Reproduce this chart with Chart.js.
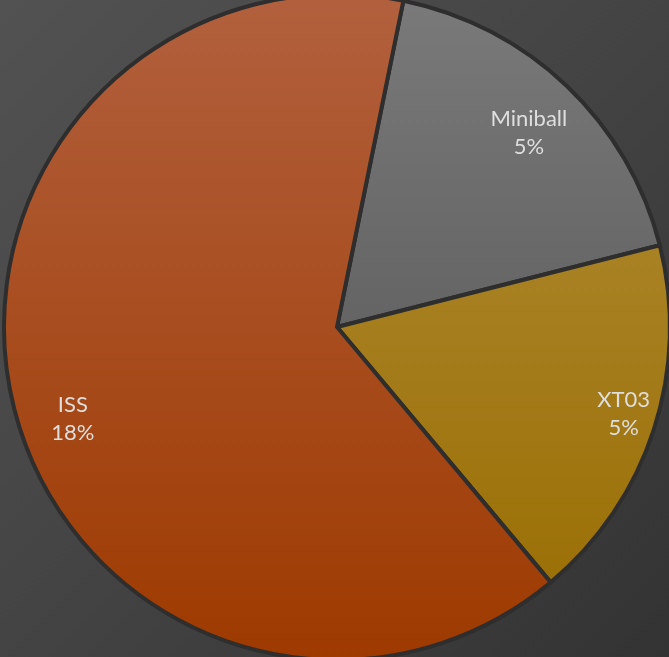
<!DOCTYPE html>
<html>
<head>
<meta charset="utf-8">
<script src="https://cdn.jsdelivr.net/npm/chart.js@4"></script>
<style>
  html, body { margin: 0; padding: 0; }
  body {
    width: 669px; height: 657px; overflow: hidden; position: relative;
    background: linear-gradient(135deg, #525252 0%, #454545 45%, #333333 100%);
  }
  #wrap { position: absolute; left: -3px; top: -8px; width: 680px; height: 670px; }
</style>
</head>
<body>
<div id="wrap"><canvas id="pie"></canvas></div>
<script>
// ================== DATA ==================
const labels = ['Miniball', 'XT03', 'ISS'];
const values = [5, 5, 18];
const valueLabels = ['5%', '5%', '18%'];

// top / bottom colours of each slice's vertical gradient
const topColors = ['#7a7a7a', '#b38f3a', '#b2603e'];
const bottomColors = ['#4e4e4e', '#986c00', '#9e3a00'];
// label placement: fraction of the radius, and a nudge off the mid angle (degrees)
const labelRadius = [0.82, 0.9, 0.84];
const labelShift = [1, -1, -5];

// ================== GRADIENT FILL ==================
function sliceGradient(ctx) {
  const chart = ctx.chart;
  const area = chart.chartArea;
  if (!area) return bottomColors[ctx.dataIndex];
  const g = chart.ctx.createLinearGradient(0, area.top, 0, area.bottom);
  g.addColorStop(0, topColors[ctx.dataIndex]);
  g.addColorStop(1, bottomColors[ctx.dataIndex]);
  return g;
}

// ================== SLICE LABELS ==================
const sliceLabels = {
  id: 'sliceLabels',
  afterDatasetsDraw(chart) {
    const c = chart.ctx;
    const arcs = chart.getDatasetMeta(0).data;
    c.save();
    c.fillStyle = '#dedede';
    c.font = '22px Lato, "Open Sans", sans-serif';
    c.textAlign = 'center';
    c.textBaseline = 'middle';
    arcs.forEach((arc, i) => {
      const p = arc.getProps(['x', 'y', 'startAngle', 'endAngle', 'outerRadius'], true);
      const mid = (p.startAngle + p.endAngle) / 2 + labelShift[i] * Math.PI / 180;
      const r = p.outerRadius * labelRadius[i];
      const x = p.x + Math.cos(mid) * r;
      const y = p.y + Math.sin(mid) * r;
      c.fillText(labels[i], x, y - 14);
      c.fillText(valueLabels[i], x, y + 14);
    });
    c.restore();
  }
};

new Chart(document.getElementById('pie'), {
  type: 'pie',
  data: {
    labels: labels,
    datasets: [{
      data: values,
      backgroundColor: sliceGradient,
      borderColor: '#2e2e2e',
      borderWidth: 4,
      borderJoinStyle: 'miter'
    }]
  },
  options: {
    responsive: true,
    maintainAspectRatio: false,
    animation: false,
    rotation: 11.5,
    layout: { padding: 0 },
    plugins: {
      legend: { display: false },
      tooltip: { enabled: false }
    }
  },
  plugins: [sliceLabels]
});
</script>
</body>
</html>
